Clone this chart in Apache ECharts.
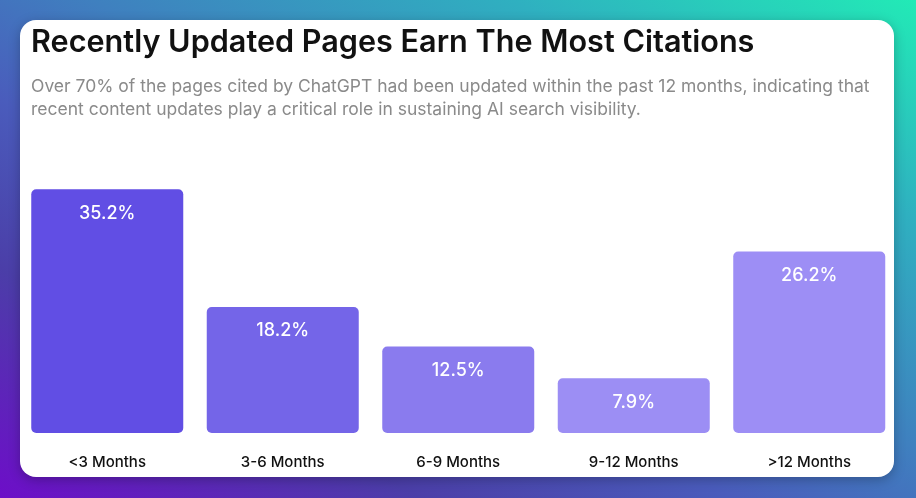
<!DOCTYPE html>
<html>
<head>
<meta charset="utf-8">
<script src="https://cdn.jsdelivr.net/npm/echarts@6/dist/echarts.min.js"></script>
<style>
  html, body { margin: 0; padding: 0; }
  #chart { width: 916px; height: 498px; }
</style>
</head>
<body>
<div id="chart"></div>
<script>
// data
var categories = ['<3 Months', '3-6 Months', '6-9 Months', '9-12 Months', '>12 Months'];
var shares = [35.2, 18.2, 12.5, 7.9, 26.2];
// one shade per bar, darkest first
var barColors = ['#614ee4', '#7465e8', '#8a7bee', '#9c8ef4', '#9d8ef5'];

var titleText = 'Recently Updated Pages Earn The Most Citations';
var subText = 'Over 70% of the pages cited by ChatGPT had been updated within the past 12 months, indicating that\nrecent content updates play a critical role in sustaining AI search visibility.';

var myChart = echarts.init(document.getElementById('chart'));

var option = {
  // diagonal so that top-left and bottom-right corners share the same blue
  backgroundColor: {
    type: 'linear', global: true,
    x: 249, y: 633, x2: 667, y2: -135,
    colorStops: [
      { offset: 0, color: '#6d0ec8' },
      { offset: 0.23, color: '#4b3ea8' },
      { offset: 0.4, color: '#4a5cbc' },
      { offset: 0.55, color: '#3f80bf' },
      { offset: 0.78, color: '#2fb0c0' },
      { offset: 1, color: '#22eab6' }
    ]
  },
  graphic: [{
    type: 'rect',
    shape: { x: 20, y: 20, width: 874, height: 457, r: 16 },
    style: {
      fill: '#ffffff',
      shadowBlur: 12,
      shadowOffsetY: 3,
      shadowColor: 'rgba(0,0,0,0.25)'
    }
  }],
  title: [{
    text: titleText,
    left: 31,
    top: 27,
    padding: 0,
    textStyle: {
      fontFamily: 'Inter',
      fontSize: 30.6,
      fontWeight: 600,
      color: '#111111'
    }
  }, {
    text: subText,
    left: 31,
    top: 75,
    padding: 0,
    textStyle: {
      fontFamily: 'Inter',
      fontSize: 17.5,
      fontWeight: 400,
      lineHeight: 23,
      color: '#8a8a8a'
    }
  }],
  grid: {
    left: 19.5,
    right: 19,
    top: 156,
    bottom: 65
  },
  xAxis: {
    type: 'category',
    data: categories,
    axisLine: { show: false },
    axisTick: { show: false },
    axisLabel: {
      margin: 22,
      fontFamily: 'Inter',
      fontSize: 15,
      fontWeight: 500,
      color: '#111111'
    }
  },
  yAxis: {
    type: 'value',
    min: 0,
    max: 40,
    show: false,
    splitLine: { show: false }
  },
  series: [{
    type: 'bar',
    barWidth: 152,
    data: shares.map(function (v, i) {
      return { value: v, itemStyle: { color: barColors[i] } };
    }),
    itemStyle: { borderRadius: 5 },
    label: {
      show: true,
      position: 'insideTop',
      distance: 15,
      formatter: '{c}%',
      fontFamily: 'Inter',
      fontSize: 18,
      fontWeight: 500,
      color: '#ffffff'
    },
    silent: true
  }]
};

myChart.setOption(option);
</script>
</body>
</html>
